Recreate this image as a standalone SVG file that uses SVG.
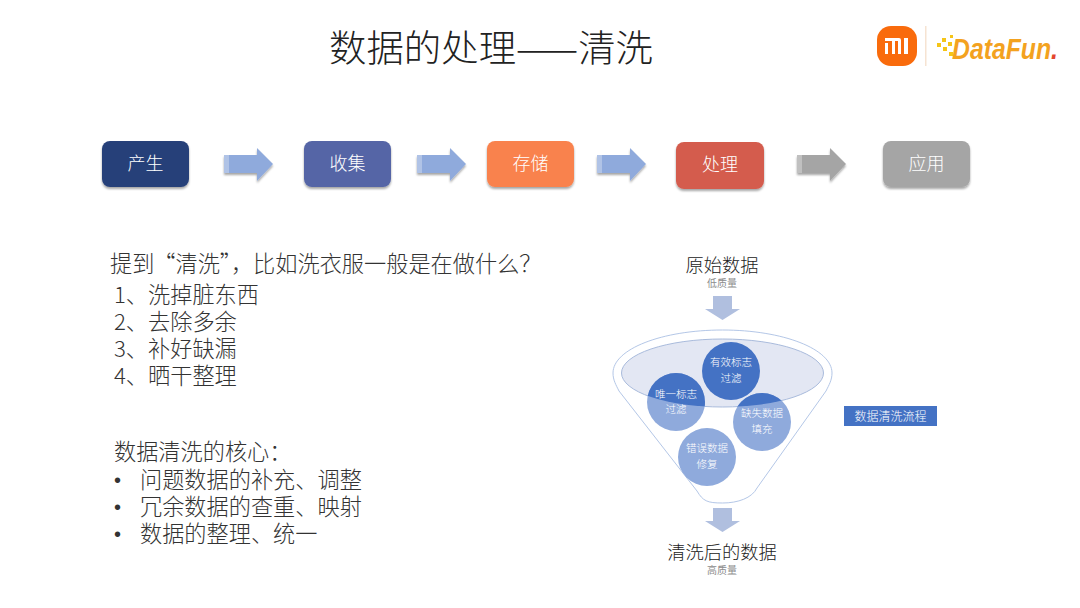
<svg xmlns="http://www.w3.org/2000/svg" width="1080" height="608" viewBox="0 0 1080 608">
<style>
text{font-family:"Noto Sans CJK SC","Liberation Sans",sans-serif;fill:#222}
.n{font-size:18px;fill:#fff;text-anchor:middle;font-weight:300}
.b{font-size:22.200px;fill:#333;font-weight:300}
.u{font-family:"Liberation Sans",sans-serif;font-size:20px;fill:#333}
.c{font-size:10.500px;fill:#fff;text-anchor:middle;font-weight:300}
.s{font-size:10px;fill:#8c8c8c;text-anchor:middle}
.h{font-size:18.300px;fill:#222;text-anchor:middle;font-weight:300}
.d{fill:#b0bfdf}
.px{fill:#f5c518}
</style>
<defs>
<filter id="sh" x="-10%" y="-10%" width="120%" height="130%"><feDropShadow dx="0" dy="2" stdDeviation="1.2" flood-color="#000" flood-opacity=".35"/></filter>
<g id="ar"><path d="M0-9H33V-16L49 0 33 17V9H0Z"/><path d="M0-9H5V9H0Z" fill="#fff" fill-opacity=".3"/></g>
<clipPath id="ell"><ellipse cx="722.500" cy="373" rx="101" ry="34"/></clipPath>
</defs>
<rect width="1080" height="608" fill="#fff"/>
<text x="491" y="62" font-size="37.400" font-weight="300" text-anchor="middle" style="fill:#222">数据的处理——清洗</text>
<g id="logo">
<rect x="877" y="26" width="40" height="40" rx="14" fill="#f96b0c"/>
<path d="M885 38H899Q901 38 901 40V54H898V41H895V54H892V41H885ZM885 43H888V54H885ZM904 38H908V54H904Z" fill="#fff"/>
<rect x="925" y="26" width="1.500" height="40" fill="#f6e3d2"/>
<rect class="px" x="937" y="43" width="4" height="4"/><rect class="px" x="942" y="38" width="4" height="4"/><rect class="px" x="943" y="47" width="4" height="4"/><rect class="px" x="948" y="42" width="4" height="4"/><rect class="px" x="949" y="52" width="4" height="4"/><rect class="px" x="950" y="35" width="3" height="3"/>
<text x="952" y="59" font-size="30" font-weight="700" font-style="italic" textLength="106" lengthAdjust="spacingAndGlyphs" style="font-family:'Liberation Sans',sans-serif;fill:#f3a21f">DataFun<tspan style="fill:#e4472e">.</tspan></text>
</g>
<g id="connectors">
<use href="#ar" x="224" y="164" fill="#8faadc" filter="url(#sh)"/>
<use href="#ar" x="417" y="164" fill="#8faadc" filter="url(#sh)"/>
<use href="#ar" x="597" y="164" fill="#8faadc" filter="url(#sh)"/>
<use href="#ar" x="797" y="164" fill="#a5a5a5" filter="url(#sh)"/>
<path class="d" d="M713 296H732V309H740L722.500 320 705 309H713Z"/>
<path class="d" d="M713 508H732V521H740L722.500 532 705 521H713Z"/>
</g>
<g id="n1"><rect x="102" y="141" width="87" height="46" rx="8" fill="#264179" filter="url(#sh)"/><text class="n" x="145.500" y="170">产生</text></g>
<g id="n2"><rect x="304" y="141" width="87" height="46" rx="8" fill="#5565a6" filter="url(#sh)"/><text class="n" x="347.500" y="170">收集</text></g>
<g id="n3"><rect x="487" y="141" width="87" height="46" rx="8" fill="#f9824e" filter="url(#sh)"/><text class="n" x="530.500" y="170">存储</text></g>
<g id="n4"><rect x="676" y="142" width="88" height="47" rx="8" fill="#d45c4e" filter="url(#sh)"/><text class="n" x="720" y="171">处理</text></g>
<g id="n5"><rect x="883" y="141" width="87" height="46" rx="8" fill="#a5a5a5" filter="url(#sh)"/><text class="n" x="926.500" y="170">应用</text></g>
<g id="text-left">
<text class="b" x="110" y="272" word-spacing="-6">提到 “清洗”，比如洗衣服一般是在做什么？</text>
<text class="b" x="114" y="303">1、洗掉脏东西</text>
<text class="b" x="114" y="330">2、去除多余</text>
<text class="b" x="114" y="357">3、补好缺漏</text>
<text class="b" x="114" y="384">4、晒干整理</text>
<text class="b" x="114" y="460">数据清洗的核心：</text>
<text class="u" x="114" y="487">•</text><text class="b" x="140" y="488">问题数据的补充、调整</text>
<text class="u" x="114" y="514">•</text><text class="b" x="140" y="515">冗余数据的查重、映射</text>
<text class="u" x="114" y="541">•</text><text class="b" x="140" y="542">数据的整理、统一</text>
</g>
<g id="funnel">
<path d="M613 373C613 349 662 330 722.500 330S832 349 832 373C832 380 829 385 826 391L757 488C752 498 738 503 722.500 503S703 501 697 491L619 391C616 385 613 380 613 373Z" fill="#fff" stroke="#b4c7e7" stroke-width="1"/>
<ellipse cx="722.500" cy="373" rx="101" ry="34" fill="#e3e7f3" stroke="#a9bbdc" stroke-width="1"/>
</g>
<g id="c1"><circle cx="731" cy="371" r="29" fill="#4472c4"/><text class="c" x="731" y="366">有效标志</text><text class="c" x="731" y="382">过滤</text></g>
<g id="c2"><circle cx="676" cy="402" r="29" fill="#8faadc"/><circle cx="676" cy="402" r="29" fill="#4472c4" clip-path="url(#ell)"/><text class="c" x="676" y="398">唯一标志</text><text class="c" x="676" y="413">过滤</text></g>
<g id="c3"><circle cx="762" cy="422" r="29" fill="#8faadc"/><circle cx="762" cy="422" r="29" fill="#4472c4" clip-path="url(#ell)"/><text class="c" x="762" y="417">缺失数据</text><text class="c" x="762" y="433">填充</text></g>
<g id="c4"><circle cx="707" cy="457" r="29" fill="#8faadc"/><text class="c" x="707" y="452">错误数据</text><text class="c" x="707" y="468">修复</text></g>
<g id="labels">
<text class="h" x="722" y="272">原始数据</text>
<text class="s" x="722" y="287">低质量</text>
<text class="h" x="722" y="559">清洗后的数据</text>
<text class="s" x="722" y="574">高质量</text>
</g>
<g id="tag"><rect x="844" y="406" width="93" height="20" fill="#4472c4"/><text x="890.500" y="421" font-size="12" font-weight="300" text-anchor="middle" style="fill:#fff">数据清洗流程</text></g>
</svg>
